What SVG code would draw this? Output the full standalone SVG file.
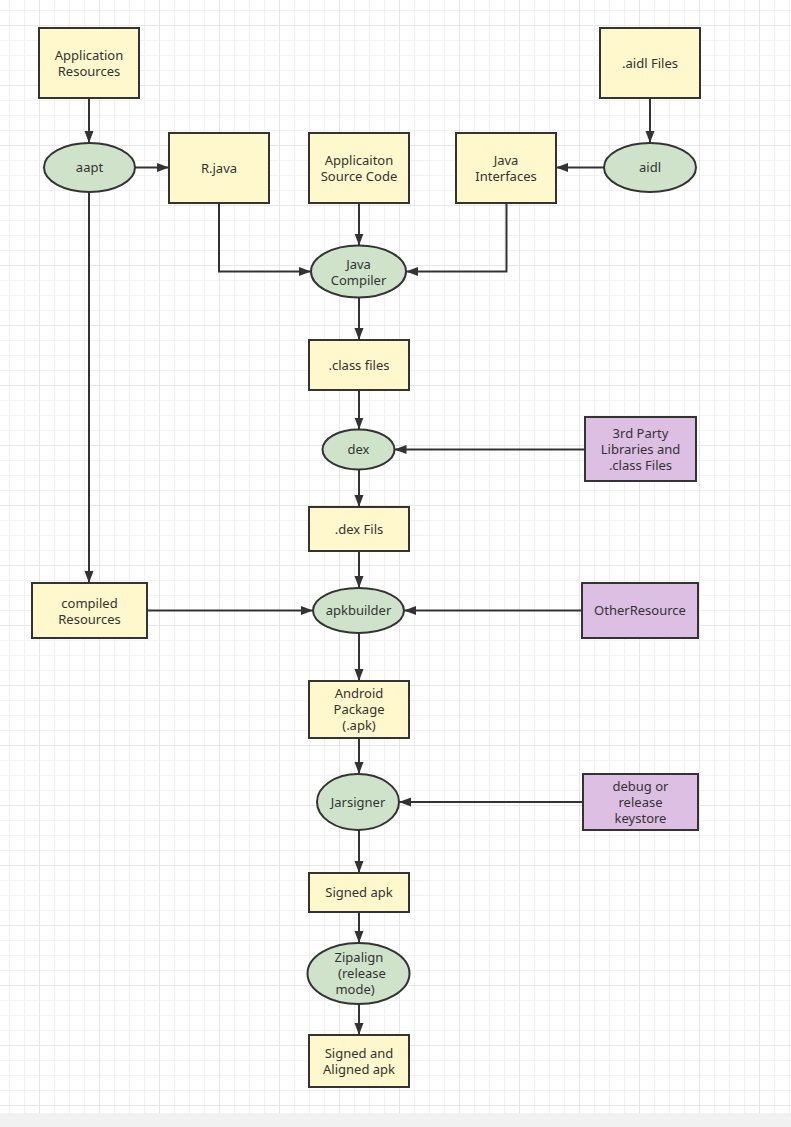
<svg xmlns="http://www.w3.org/2000/svg" width="791" height="1127" viewBox="0 0 791 1127">
<style>
.box{fill:#fef8cc;stroke:#333;stroke-width:2}
.ell{fill:#cfe3ca;stroke:#333;stroke-width:2}
.pur{fill:#dcbfe3;stroke:#333;stroke-width:2}
text{font-family:"Noto Sans","Liberation Sans",sans-serif;font-size:13px;fill:#333;text-anchor:middle}
.conn path{fill:none;stroke:#333;stroke-width:2;marker-end:url(#arr)}
</style>
<defs>
<pattern id="gmin" patternUnits="userSpaceOnUse" x="9" y="10" width="15" height="15">
<rect x="0" y="0" width="1" height="15" fill="#f1f1f1"/>
<rect x="0" y="0" width="15" height="1" fill="#f1f1f1"/>
</pattern>
<pattern id="gmaj" patternUnits="userSpaceOnUse" x="39" y="25" width="60" height="60">
<rect x="0" y="0" width="1" height="60" fill="#e6e6e6"/>
<rect x="0" y="0" width="60" height="1" fill="#e6e6e6"/>
</pattern>
<marker id="arr" markerUnits="userSpaceOnUse" markerWidth="12" markerHeight="10" refX="12" refY="5" orient="auto">
<path d="M0,0.5 L12,5 L0,9.5 z" fill="#333"/>
</marker>
</defs>
<rect x="0" y="0" width="791" height="1127" fill="#f1f1f1"/>
<rect x="0" y="0" width="791" height="1113" fill="#fff"/>
<rect x="0" y="0" width="791" height="1113" fill="url(#gmin)"/>
<rect x="0" y="0" width="791" height="1113" fill="url(#gmaj)"/>

<g class="conn" id="connectors">
<path d="M89,98 V143"/>
<path d="M89,192 V583"/>
<path d="M135,167.5 H169"/>
<path d="M650,98 V143"/>
<path d="M604,167.5 H556"/>
<path d="M359,203 V245.5"/>
<path d="M219,203 V271.5 H311"/>
<path d="M506.5,203 V271.5 H406"/>
<path d="M359,297.5 V340"/>
<path d="M359,390 V429.5"/>
<path d="M585,449.5 H394.5"/>
<path d="M359,469.5 V507"/>
<path d="M359,551 V588"/>
<path d="M147,610.5 H313"/>
<path d="M582,610.5 H404"/>
<path d="M359,633 V681"/>
<path d="M359,738 V774"/>
<path d="M583,802 H399"/>
<path d="M359,830 V873"/>
<path d="M359,912 V943"/>
<path d="M359,1004 V1035"/>
</g>

<g id="appres"><rect class="box" x="39" y="28" width="100" height="70"/><text x="89" y="59.5">Application</text><text x="89" y="75.5">Resources</text></g>
<g id="aapt"><ellipse class="ell" cx="89.5" cy="167.5" rx="45.5" ry="24.5"/><text x="89.5" y="172">aapt</text></g>
<g id="rjava"><rect class="box" x="169" y="133" width="100" height="70"/><text x="219" y="172.5">R.java</text></g>
<g id="srccode"><rect class="box" x="309" y="133" width="100" height="70"/><text x="359" y="164.5">Applicaiton</text><text x="359" y="180.5">Source Code</text></g>
<g id="javaintf"><rect class="box" x="456" y="133" width="100" height="70"/><text x="506" y="164.5">Java</text><text x="506" y="180.5">Interfaces</text></g>
<g id="aidlfiles"><rect class="box" x="600" y="28" width="100" height="70"/><text x="650" y="67.5">.aidl Files</text></g>
<g id="aidl"><ellipse class="ell" cx="650" cy="167.5" rx="46" ry="24.5"/><text x="650" y="172">aidl</text></g>
<g id="compiler"><ellipse class="ell" cx="358.5" cy="271.5" rx="47.5" ry="26"/><text x="358.5" y="268.5">Java</text><text x="358.5" y="284.5">Compiler</text></g>
<g id="classfiles"><rect class="box" x="309" y="340" width="100" height="50"/><text x="359" y="369.5">.class files</text></g>
<g id="dex"><ellipse class="ell" cx="358.5" cy="449.5" rx="36" ry="20"/><text x="358.5" y="454">dex</text></g>
<g id="thirdparty"><rect class="pur" x="585" y="417" width="111" height="64"/><text x="640.5" y="437.5">3rd Party</text><text x="640.5" y="453.5">Libraries and</text><text x="640.5" y="469.5">.class Files</text></g>
<g id="dexfiles"><rect class="box" x="309" y="507" width="100" height="44"/><text x="359" y="533.5">.dex Fils</text></g>
<g id="compiled"><rect class="box" x="32" y="583" width="115" height="55"/><text x="89.5" y="607.5">compiled</text><text x="89.5" y="623.5">Resources</text></g>
<g id="apkbuilder"><ellipse class="ell" cx="358.5" cy="610.5" rx="45.5" ry="22.5"/><text x="358.5" y="615">apkbuilder</text></g>
<g id="other"><rect class="pur" x="582" y="583" width="116" height="55"/><text x="640" y="615">OtherResource</text></g>
<g id="apk"><rect class="box" x="309" y="681" width="100" height="57"/><text x="359" y="698">Android</text><text x="359" y="714">Package</text><text x="359" y="730">(.apk)</text></g>
<g id="jarsigner"><ellipse class="ell" cx="358" cy="802" rx="41" ry="28"/><text x="358" y="806.5">Jarsigner</text></g>
<g id="keystore"><rect class="pur" x="583" y="774" width="115" height="56"/><text x="640.5" y="790.5">debug or</text><text x="640.5" y="806.5">release</text><text x="640.5" y="822.5">keystore</text></g>
<g id="signedapk"><rect class="box" x="309" y="873" width="100" height="39"/><text x="359" y="897">Signed apk</text></g>
<g id="zipalign"><ellipse class="ell" cx="358.5" cy="973.5" rx="51" ry="30.5"/><text x="359" y="962">Zipalign</text><text x="362" y="978">(release</text><text x="355" y="994">mode)</text></g>
<g id="final"><rect class="box" x="309" y="1035" width="100" height="52"/><text x="359" y="1057.5">Signed and</text><text x="359" y="1073.5">Aligned apk</text></g>
</svg>
